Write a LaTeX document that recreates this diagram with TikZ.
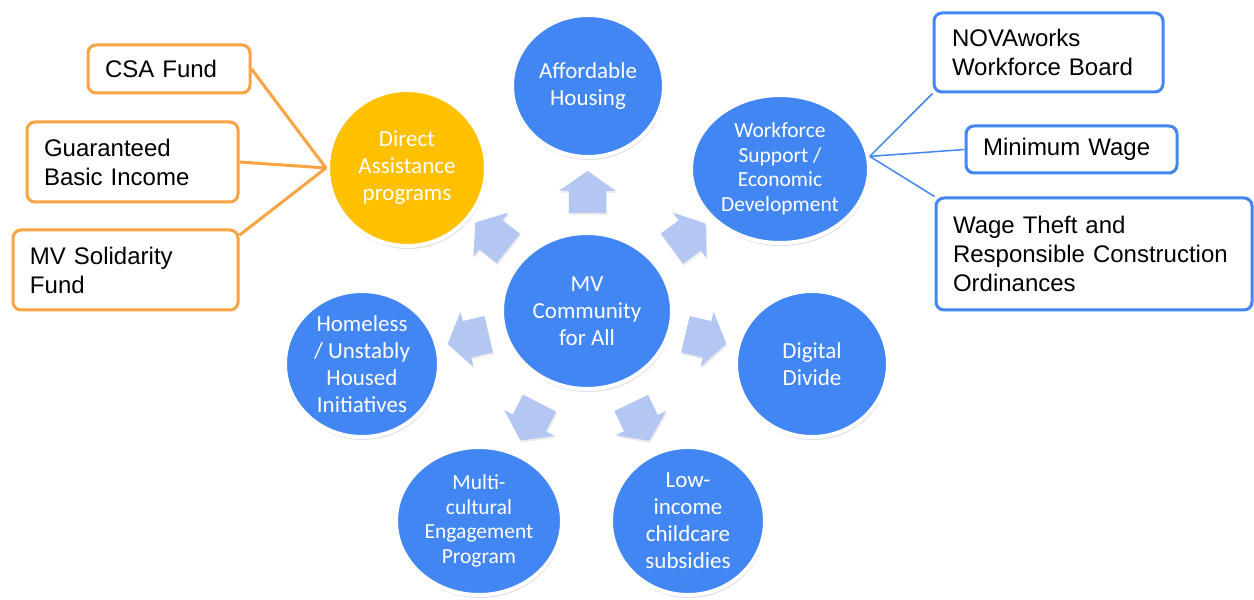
\documentclass[tikz,border=0pt]{standalone}
\usepackage{fontspec}
\setmainfont{Liberation Sans}
\newfontfamily\carlito{Carlito}
\usetikzlibrary{shapes.geometric,shapes.arrows,shadows}

\definecolor{hubblue}{RGB}{66,134,244}
\definecolor{sunny}{RGB}{255,192,0}
\definecolor{spokeblue}{RGB}{180,199,242}
\definecolor{boxorange}{RGB}{249,164,66}

\begin{document}
\begin{tikzpicture}[
		x=1pt, y=1pt,
		item/.style={ellipse, fill=hubblue, draw=white, line width=4pt, inner sep=-6pt, align=center, text=white, font=\carlito\fontsize{23}{27}\selectfont, drop shadow={shadow xshift=1pt, shadow yshift=-3pt, opacity=0.25}},
		smalltext/.style={font=\carlito\fontsize{21.5}{24.5}\selectfont},
		leaf/.style={rectangle, draw, line width=3pt, rounded corners=8pt, fill=white, align=left, inner xsep=17pt, inner ysep=0pt, font=\fontsize{24}{29}\selectfont},
		spoke/.style={single arrow, fill=spokeblue, draw=none, inner xsep=0pt, inner ysep=18.5pt, minimum height=42pt, single arrow head extend=9.5pt, single arrow tip angle=110, sloped, allow upside down, drop shadow={shadow xshift=1pt, shadow yshift=-2pt, opacity=0.15}},
		orangeline/.style={draw=boxorange, line width=3pt},
		blueline/.style={draw=hubblue, line width=1.5pt}
	]
	\fill[white] (0,0) rectangle (1254,600);
	\useasboundingbox (0,0) rectangle (1254,600);

	% Circles round the hub
	\node (hub) [item, minimum width=170pt, minimum height=156pt] at (587,289) {MV\\Community\\for All};
	\node (house) [item, minimum width=152pt, minimum height=142pt] at (588,514) {Affordable\\Housing};
	\node (direct) [item, fill=sunny, minimum width=158pt, minimum height=156pt] at (407,432) {Direct\\Assistance\\programs};
	\node (work) [item, smalltext, minimum width=178pt, minimum height=148pt] at (780,431) {Workforce\\Support /\\Economic\\Development};
	\node (digital) [item, minimum width=152pt, minimum height=146pt] at (812,236) {Digital\\Divide};
	\node (homeless) [item, minimum width=154pt, minimum height=146pt] at (362,236) {Homeless\\/ Unstably\\Housed\\Initiatives};
	\node (multi) [item, smalltext, minimum width=166pt, minimum height=148pt] at (479,79) {Multi-\\cultural\\Engagement\\Program};
	\node (childcare) [item, minimum width=154pt, minimum height=148pt] at (688,79) {Low-\\income\\childcare\\subsidies};

	% Block arrows from the hub
	\foreach \target in {house,direct,work,digital,homeless,multi,childcare}
		\path (hub.center) -- (\target.center) node[midway, spoke] {};

	% Boxes on the left
	\node (csa) [leaf, draw=boxorange, minimum width=162pt, minimum height=48pt, text width=128pt] at (169,531) {CSA Fund};
	\node (ubi) [leaf, draw=boxorange, minimum width=211pt, minimum height=80pt, text width=177pt] at (132.5,438) {Guaranteed\\Basic Income};
	\node (sol) [leaf, draw=boxorange, minimum width=225pt, minimum height=80pt, text width=191pt] at (125.5,330) {MV Solidarity\\Fund};

	% Boxes on the right
	\node (nova) [leaf, draw=hubblue, minimum width=229pt, minimum height=79pt, text width=193pt] at (1048.5,547.5) {NOVAworks\\Workforce Board};
	\node (minw) [leaf, draw=hubblue, minimum width=211pt, minimum height=47pt, text width=177pt] at (1071.5,450.5) {Minimum Wage};
	\node (theft) [leaf, draw=hubblue, minimum width=316pt, minimum height=112pt, text width=282pt] at (1094,346) {Wage Theft and\\Responsible Construction\\Ordinances};

	% Lines
	\draw[orangeline] (csa.east) -- (direct.west);
	\draw[orangeline] (ubi.east) -- (direct.west);
	\draw[orangeline] (sol.17) -- (direct.west);
	\draw[blueline] (work.8) -- (nova.south west);
	\draw[blueline] (work.8) -- (minw.west);
	\draw[blueline] (work.8) -- (theft.north west);
\end{tikzpicture}
\end{document}
